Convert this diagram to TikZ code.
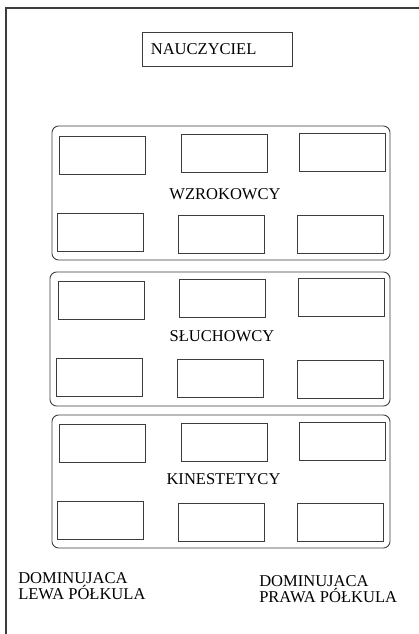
\documentclass[tikz,border=0pt]{standalone}
\usepackage{fontspec}
\setmainfont{Liberation Serif}
\usepackage{tikz}
\usetikzlibrary{positioning}
\definecolor{lineG}{RGB}{60,60,60}

\begin{document}
\begin{tikzpicture}[
  x=0.75pt, y=-0.75pt,
  txt/.style={font=\fontsize{12.4}{12}\selectfont, inner sep=0pt},
  cell/.style={draw=lineG, line width=0.65pt, minimum width=64.5pt, minimum height=28.5pt, inner sep=0pt},
  group/.style={draw=lineG, line width=0.65pt, rounded corners=5pt, minimum width=253.5pt, minimum height=100.5pt, inner sep=0pt},
  frame/.style={draw=lineG, line width=1pt},
  title/.style={draw=lineG, line width=0.65pt, font=\fontsize{12.4}{12}\selectfont, text width=100pt, align=left, inner xsep=6pt, minimum height=25.5pt}
]
\useasboundingbox (0,0) rectangle (418,634);
\draw[frame] (6,640) -- (6,8) -- (420,8);
\node[title] (nauczyciel) at (217.5,49) {NAUCZYCIEL};
% wzrokowcy
\node[group] (wzrok) at (221,193) {};
\node[cell] (w1) at (102,155.5) {};
\node[cell] (w2) at (224,153.5) {};
\node[cell] (w3) at (342,152.5) {};
\node[cell] (w4) at (100,232) {};
\node[cell] (w5) at (221,234) {};
\node[cell] (w6) at (340.5,234) {};
\node[txt] (wzrokL) at (225,194) {WZROKOWCY};
% sluchowcy
\node[group, minimum width=255pt] (sluch) at (220,339) {};
\node[cell] (s1) at (101,300.5) {};
\node[cell] (s2) at (222.5,298.5) {};
\node[cell] (s3) at (341,297.5) {};
\node[cell] (s4) at (99.5,377.5) {};
\node[cell] (s5) at (220,378.5) {};
\node[cell] (s6) at (340,379) {};
\node[txt] (sluchL) at (222,336) {SŁUCHOWCY};
% kinestetycy
\node[group, minimum height=99.75pt] (kin) at (221,481.5) {};
\node[cell] (k1) at (102,443.5) {};
\node[cell] (k2) at (224,442) {};
\node[cell] (k3) at (342,441) {};
\node[cell] (k4) at (100,520) {};
\node[cell] (k5) at (221,522) {};
\node[cell] (k6) at (340.5,522) {};
\node[txt] (kinL) at (223.5,479) {KINESTETYCY};
% polkule
\node[txt, align=left, anchor=west] (lewa) at (18,586) {DOMINUJACA\\LEWA PÓŁKULA};
\node[txt, align=left, anchor=west] (prawa) at (259,589) {DOMINUJACA\\PRAWA PÓŁKULA};
\end{tikzpicture}
\end{document}
